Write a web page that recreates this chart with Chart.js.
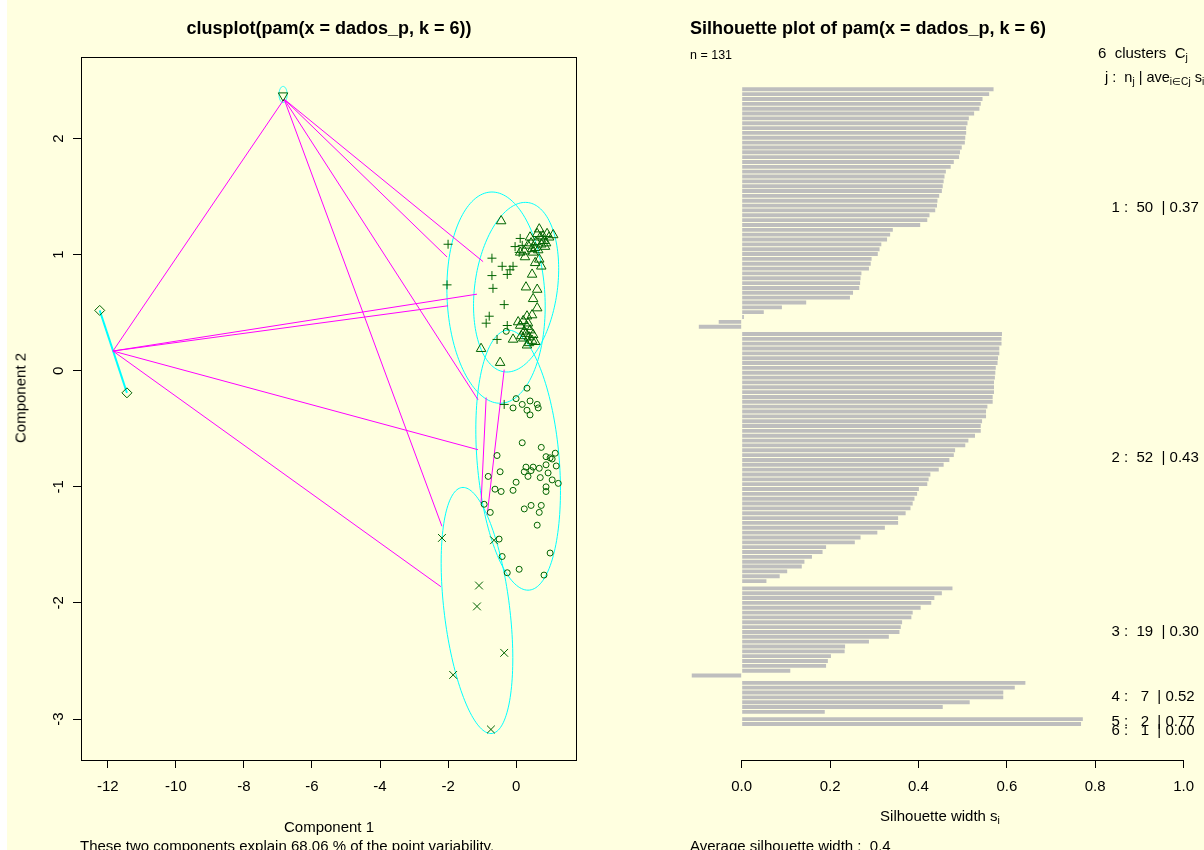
<!DOCTYPE html>
<html>
<head>
<meta charset="utf-8">
<script src="https://cdn.jsdelivr.net/npm/chart.js"></script>
<style>
  body { margin: 0; background: #ffffe0; font-family: "Liberation Sans", Arial, Helvetica, sans-serif; }
  #strip { position: absolute; left: 0; top: 0; width: 7px; height: 850px; background: #fff; }
  canvas { position: absolute; top: 0; }
  #clus { left: 0; }
  #sil { left: 600px; }
  .t { position: absolute; white-space: nowrap; line-height: 1; color: #000; }
  .c { transform: translate(-50%, -50%); }
  .l { transform: translateY(-50%); }
  .b { font-weight: bold; font-size: 18px; }
  sub { font-size: 70%; vertical-align: -0.35em; line-height: 0; }
</style>
</head>
<body>
<div id="strip"></div>
<canvas id="clus" width="600" height="850"></canvas>
<canvas id="sil" width="604" height="850"></canvas>

<div class="t c b" style="left:329px; top:28px;">clusplot(pam(x = dados_p, k = 6))</div>
<div class="t c" style="left:20px; top:398px; font-size:15px; transform: translate(-50%,-50%) rotate(-90deg);">Component 2</div>
<div class="t c" style="left:329px; top:826px; font-size:15px;">Component 1</div>
<div class="t l" style="left:80px; top:845px; font-size:15px;">These two components explain 68.06 % of the point variability.</div>

<div class="t l b" style="left:690px; top:28px;">Silhouette plot of pam(x = dados_p, k = 6)</div>
<div class="t l" style="left:690px; top:55px; font-size:12.5px;">n = 131</div>
<div class="t l" style="left:1098px; top:52px; font-size:15px;">6&nbsp; clusters&nbsp; C<sub>j</sub></div>
<div class="t l" style="left:1105px; top:77px; font-size:14.5px;">j :&nbsp; n<sub>j</sub> | ave<sub>i∈Cj</sub> s<sub>i</sub></div>
<div class="t c" style="left:940px; top:815px; font-size:15px;">Silhouette width s<sub>i</sub></div>
<div class="t l" style="left:690px; top:845px; font-size:15px;">Average silhouette width :&nbsp; 0.4</div>

<script>
// ---- clusplot data (component 1, component 2) ----
const circlePts = [[0.32,-0.15],[0.00,-0.24],[-0.09,-0.32],[0.18,-0.29],[0.41,-0.26],[0.62,-0.29],[0.65,-0.32],[0.32,-0.34],[0.41,-0.38],[0.18,-0.62],
  [0.74,-0.66],[1.15,-0.71],[0.88,-0.74],[1.06,-0.76],[1.00,-0.75],[-0.56,-0.73],[1.18,-0.82],[0.88,-0.81],[0.29,-0.83],[0.50,-0.83],
  [0.68,-0.84],[0.24,-0.87],[0.44,-0.86],[-0.47,-0.87],[0.94,-0.88],[-0.82,-0.91],[0.35,-0.91],[0.71,-0.92],[1.06,-0.94],[1.24,-0.97],
  [0.00,-0.96],[0.88,-1.00],[0.88,-1.04],[-0.62,-1.02],[-0.44,-1.04],[-0.09,-1.03],[-0.94,-1.15],[-0.76,-1.22],[0.24,-1.19],[0.44,-1.16],
  [0.74,-1.16],[0.68,-1.22],[0.62,-1.33],[-0.50,-1.45],[1.00,-1.57],[-0.41,-1.60],[0.09,-1.71],[-0.26,-1.74],[0.82,-1.76],[-0.29,0.34]];
const trianglePts = [[-0.44,1.29],[0.68,1.22],[0.91,1.18],[1.09,1.17],[0.62,1.18],[0.71,1.15],[0.82,1.12],[0.41,1.15],[0.59,1.11],[0.88,1.10],
  [0.74,1.09],[0.56,1.06],[0.47,1.05],[0.24,1.03],[0.12,1.02],[0.50,1.02],[0.26,0.98],[0.68,0.96],[0.56,0.93],[0.74,0.90],
  [0.47,0.83],[0.29,0.72],[0.62,0.70],[0.50,0.62],[0.62,0.54],[0.47,0.48],[0.32,0.47],[0.21,0.43],[0.06,0.42],[0.35,0.41],
  [0.32,0.38],[0.24,0.34],[0.29,0.32],[0.38,0.29],[0.21,0.28],[0.47,0.26],[0.56,0.25],[-0.09,0.27],[0.32,0.22],[-1.03,0.19],
  [-0.47,0.07],[0.97,1.15],[0.79,1.16],[0.44,1.10],[0.35,1.08],[0.65,1.04],[0.85,1.07],[0.12,0.39],[0.41,0.35],[0.50,0.31],
  [0.15,0.30],[0.38,0.24]];
const plusPts = [[-2.00,1.09],[-2.03,0.74],[0.12,1.14],[0.18,1.08],[0.09,1.02],[-0.71,0.97],[-0.41,0.90],[-0.18,0.87],[-0.09,0.90],[-0.26,0.83],
  [-0.71,0.82],[-0.68,0.71],[-0.35,0.57],[-0.79,0.47],[-0.88,0.41],[-0.26,0.39],[-0.56,0.27],[-0.35,-0.29],[-0.03,1.07]];
const crossPts = [[-2.18,-1.44],[-0.65,-1.46],[-1.09,-1.85],[-1.15,-2.03],[-0.35,-2.43],[-1.85,-2.62],[-0.74,-3.09]];
const diamondPts = [[-12.24,0.52],[-11.44,-0.19]];
const invTrianglePts = [[-6.85,2.37]];

// ellipses: centre and two conjugate semi-axes (data units)
const ellCenter = [[0.06,-0.77],[0.00,0.72],[-0.59,0.63],[-1.15,-2.065],[-11.84,0.165],[-6.85,2.38]];
const ellU = [[-0.29,1.12],[0.32,0.73],[-0.12,0.91],[-0.41,1.06],[-0.40,0.355],[0.00,0.07]];
const ellV = [[1.21,0.00],[1.21,-0.03],[1.44,0.00],[0.97,0.00],[0.00,0.00],[0.12,0.00]];

// segments between ellipses
const segStart = [[-6.82,2.34],[-6.82,2.34],[-6.82,2.34],[-6.82,2.34],[-6.82,2.34],
  [-11.85,0.17],[-11.85,0.17],[-11.85,0.17],[-11.85,0.17],[-0.88,-0.23],[-0.35,0.01]];
const segEnd = [[-11.85,0.17],[-2.03,0.98],[-0.97,0.94],[-1.12,-0.25],[-2.18,-1.34],
  [-2.00,0.56],[-1.15,0.66],[-1.12,-0.68],[-2.21,-1.86],[-1.03,-1.14],[-0.85,-1.24]];

const compXTicks = [-12, -10, -8, -6, -4, -2, 0];
const compYTicks = [-3, -2, -1, 0, 1, 2];

// ---- silhouette data ----
const sil1 = [0.570,0.560,0.545,0.541,0.538,0.526,0.514,0.511,0.508,0.508,0.506,0.505,0.498,0.494,0.492,0.480,0.473,0.462,0.459,0.457,
  0.455,0.453,0.447,0.443,0.442,0.438,0.425,0.420,0.404,0.342,0.336,0.329,0.316,0.312,0.308,0.294,0.292,0.288,0.271,0.269,
  0.268,0.266,0.252,0.245,0.146,0.091,0.050,0.005,-0.052,-0.097];
const sil2 = [0.589,0.588,0.588,0.583,0.583,0.580,0.579,0.575,0.574,0.573,0.571,0.571,0.571,0.568,0.568,0.556,0.553,0.553,0.544,0.541,
  0.541,0.528,0.513,0.506,0.483,0.480,0.470,0.457,0.446,0.427,0.423,0.420,0.401,0.397,0.391,0.387,0.382,0.371,0.354,0.354,
  0.324,0.307,0.269,0.256,0.191,0.183,0.159,0.142,0.136,0.103,0.086,0.056];
const sil3 = [0.477,0.453,0.436,0.429,0.405,0.387,0.384,0.363,0.360,0.357,0.333,0.288,0.234,0.233,0.202,0.195,0.191,0.110,-0.113];
const sil4 = [0.642,0.618,0.592,0.592,0.516,0.455,0.188];
const sil5 = [0.772,0.768];
const sil6 = [0.000];
const clusterN = [50, 52, 19, 7, 2, 1];
const clusterAve = [0.37, 0.43, 0.30, 0.52, 0.77, 0.00];
const silTicks = [0.0, 0.2, 0.4, 0.6, 0.8, 1.0];

const FONT = '"Liberation Sans", Arial, Helvetica, sans-serif';
const GREEN = '#006400';

// ================= clusplot =================
const toXY = p => ({ x: p[0], y: p[1] });

function pointSet(pts, style, r, rot) {
  return {
    data: pts.map(toXY), pointStyle: style, pointRadius: r, pointRotation: rot || 0,
    pointBorderColor: GREEN, pointBackgroundColor: 'rgba(0,0,0,0)', pointBorderWidth: 1, order: 0
  };
}

const clusDatasets = [
  pointSet(circlePts, 'circle', 3),
  pointSet(trianglePts, 'triangle', 5.5),
  pointSet(plusPts, 'cross', 4.5),
  pointSet(crossPts, 'crossRot', 5.5),
  pointSet(diamondPts, 'rectRot', 5),
  pointSet(invTrianglePts, 'triangle', 5.5, 180)
];
segStart.forEach((s, i) => {
  clusDatasets.push({
    data: [toXY(s), toXY(segEnd[i])], showLine: true, pointRadius: 0,
    borderColor: '#ff00ff', borderWidth: 1, order: 2
  });
});

const clusDecor = {
  id: 'clusDecor',
  beforeDatasetsDraw(chart) {
    const { ctx, chartArea: a, scales: { x, y } } = chart;
    ctx.save();
    ctx.beginPath();
    ctx.rect(a.left, a.top, a.right - a.left, a.bottom - a.top);
    ctx.clip();
    ctx.strokeStyle = '#00ffff';
    ellCenter.forEach((c, i) => {
      const u = ellU[i], v = ellV[i];
      ctx.lineWidth = i === 4 ? 2 : 1;
      ctx.beginPath();
      for (let k = 0; k <= 160; k++) {
        const t = k / 160 * 2 * Math.PI;
        const px = x.getPixelForValue(c[0] + u[0] * Math.cos(t) + v[0] * Math.sin(t));
        const py = y.getPixelForValue(c[1] + u[1] * Math.cos(t) + v[1] * Math.sin(t));
        if (k) ctx.lineTo(px, py); else ctx.moveTo(px, py);
      }
      ctx.stroke();
    });
    ctx.restore();
  },
  afterDraw(chart) {
    const { ctx, chartArea: a, scales: { y } } = chart;
    ctx.save();
    ctx.strokeStyle = '#000';
    ctx.lineWidth = 1;
    ctx.strokeRect(a.left + 0.5, a.top + 0.5, a.right - a.left - 1, a.bottom - a.top);
    ctx.fillStyle = '#000';
    ctx.font = '15px ' + FONT;
    ctx.textAlign = 'center';
    ctx.textBaseline = 'middle';
    y.ticks.forEach(t => {
      ctx.save();
      ctx.translate(a.left - 22, y.getPixelForValue(t.value));
      ctx.rotate(-Math.PI / 2);
      ctx.fillText(String(t.value), 0, 0);
      ctx.restore();
    });
    ctx.restore();
  }
};

new Chart(document.getElementById('clus'), {
  type: 'scatter',
  data: { datasets: clusDatasets },
  options: {
    responsive: false,
    animation: false,
    layout: { padding: { left: 0, right: 23, top: 57, bottom: 0 } },
    plugins: { legend: { display: false }, tooltip: { enabled: false } },
    scales: {
      x: {
        type: 'linear', min: -12.79, max: 1.79,
        afterBuildTicks: s => { s.ticks = compXTicks.map(v => ({ value: v })); },
        afterFit: s => { s.height = 90; },
        grid: { drawOnChartArea: false, drawTicks: true, tickLength: 8, color: '#000' },
        border: { display: false },
        ticks: { color: '#000', font: { family: FONT, size: 15 }, padding: 10, maxRotation: 0 }
      },
      y: {
        type: 'linear', min: -3.353, max: 2.703,
        afterBuildTicks: s => { s.ticks = compYTicks.map(v => ({ value: v })); },
        afterFit: s => { s.width = 81; },
        grid: { drawOnChartArea: false, drawTicks: true, tickLength: 8, color: '#000' },
        border: { display: false },
        ticks: { display: false }
      }
    }
  },
  plugins: [clusDecor]
});

// ================= silhouette =================
const silClusters = [sil1, sil2, sil3, sil4, sil5, sil6];
const silBars = [];
const clusterMid = [];
let idx = 0;
silClusters.forEach((vals, c) => {
  const first = idx + 0.5 * c;
  vals.forEach((v, i) => silBars.push({ x: v, y: first + i }));
  clusterMid.push(first + (vals.length - 1) / 2);
  idx += vals.length;
});

const silDecor = {
  id: 'silDecor',
  afterDraw(chart) {
    const { ctx, chartArea: a, scales: { x, y } } = chart;
    ctx.save();
    ctx.strokeStyle = '#000';
    ctx.lineWidth = 1;
    ctx.beginPath();
    ctx.moveTo(x.getPixelForValue(silTicks[0]), a.bottom + 0.5);
    ctx.lineTo(x.getPixelForValue(silTicks[silTicks.length - 1]), a.bottom + 0.5);
    ctx.stroke();
    ctx.fillStyle = '#000';
    ctx.font = '15px ' + FONT;
    ctx.textAlign = 'left';
    ctx.textBaseline = 'middle';
    clusterN.forEach((n, j) => {
      const label = (j + 1) + ' :  ' + String(n).padStart(2, ' ') + '  | ' + clusterAve[j].toFixed(2);
      ctx.fillText(label, a.right - 90, y.getPixelForValue(clusterMid[j]));
    });
    ctx.restore();
  }
};

new Chart(document.getElementById('sil'), {
  type: 'bar',
  data: {
    datasets: [{
      data: silBars,
      backgroundColor: '#bebebe',
      borderWidth: 0,
      barPercentage: 0.8,
      categoryPercentage: 1.0
    }]
  },
  options: {
    indexAxis: 'y',
    responsive: false,
    animation: false,
    layout: { padding: { left: 72, right: 0, top: 60, bottom: 0 } },
    plugins: { legend: { display: false }, tooltip: { enabled: false } },
    scales: {
      y: { type: 'linear', reverse: true, offset: false, min: -6.05, max: 138.43, display: false },
      x: {
        type: 'linear', min: -0.1577, max: 1.0405,
        afterBuildTicks: s => { s.ticks = silTicks.map(v => ({ value: v })); },
        afterFit: s => { s.height = 90; },
        grid: { drawOnChartArea: false, drawTicks: true, tickLength: 8, color: '#000' },
        border: { display: false },
        ticks: { color: '#000', font: { family: FONT, size: 15 }, padding: 10, maxRotation: 0,
          callback: v => v.toFixed(1) }
      }
    }
  },
  plugins: [silDecor]
});
</script>
</body>
</html>
